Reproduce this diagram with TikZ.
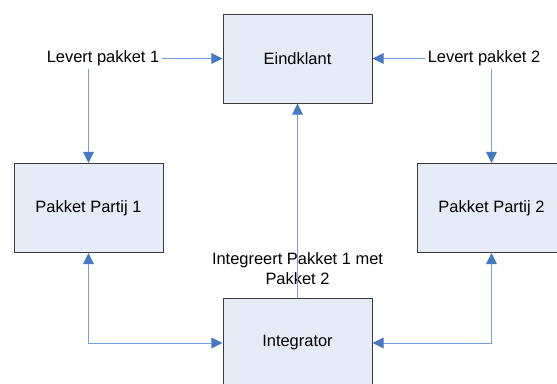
\documentclass[tikz,border=0pt]{standalone}
\usepackage{fontspec}
\setmainfont{Liberation Sans}
\usepackage{tikz}
\usetikzlibrary{arrows.meta, positioning}
\definecolor{boxfill}{RGB}{230, 236, 247}
\definecolor{boxline}{RGB}{60, 60, 60}
\definecolor{lineblue}{RGB}{120, 160, 220}
\definecolor{headblue}{RGB}{70, 120, 196}

\begin{document}
\begin{tikzpicture}[
    party/.style={draw=boxline, fill=boxfill, line width=0.7pt, minimum width=3.725cm, minimum height=2.225cm, font=\fontsize{11.7}{14.2}\selectfont},
    plain/.style={font=\fontsize{11.7}{14.2}\selectfont, align=center, inner sep=2pt},
    flow/.style={draw=lineblue, line width=0.7pt, -{Triangle[length=0.28cm, width=0.27cm, color=headblue]}},
    twoway/.style={draw=lineblue, line width=0.7pt, {Triangle[length=0.28cm, width=0.27cm, color=headblue]}-{Triangle[length=0.28cm, width=0.27cm, color=headblue]}}
  ]
  \clip (0, 0) rectangle (13.925, 9.575);

  % boxes
  \node[party] (eind) at (7.4375, 8.1125) {Eindklant};
  \node[party] (pp1) at (2.2125, 4.375) {Pakket Partij 1};
  \node[party] (pp2) at (12.2875, 4.375) {Pakket Partij 2};
  \node[party] (integ) at (7.4375, 1.0) {Integrator};

  % labels
  \node[plain] (lev1) at (2.575, 8.1125) {Levert pakket 1};
  \node[plain] (lev2) at (12.1, 8.1125) {Levert pakket 2};
  \node[plain] (integr) at (7.4375, 2.85) {Integreert Pakket 1 met\\Pakket 2};

  % connectors
  \draw[flow] (lev1.east) -- (eind.west);
  \draw[flow] (lev1.south -| pp1.north) -- (pp1.north);
  \draw[flow] (lev2.west) -- (eind.east);
  \draw[flow] (lev2.south -| pp2.north) -- (pp2.north);
  \draw[flow] (integ.north) -- (eind.south);
  \draw[twoway] (pp1.south) |- (integ.west);
  \draw[twoway] (pp2.south) |- (integ.east);
\end{tikzpicture}
\end{document}
